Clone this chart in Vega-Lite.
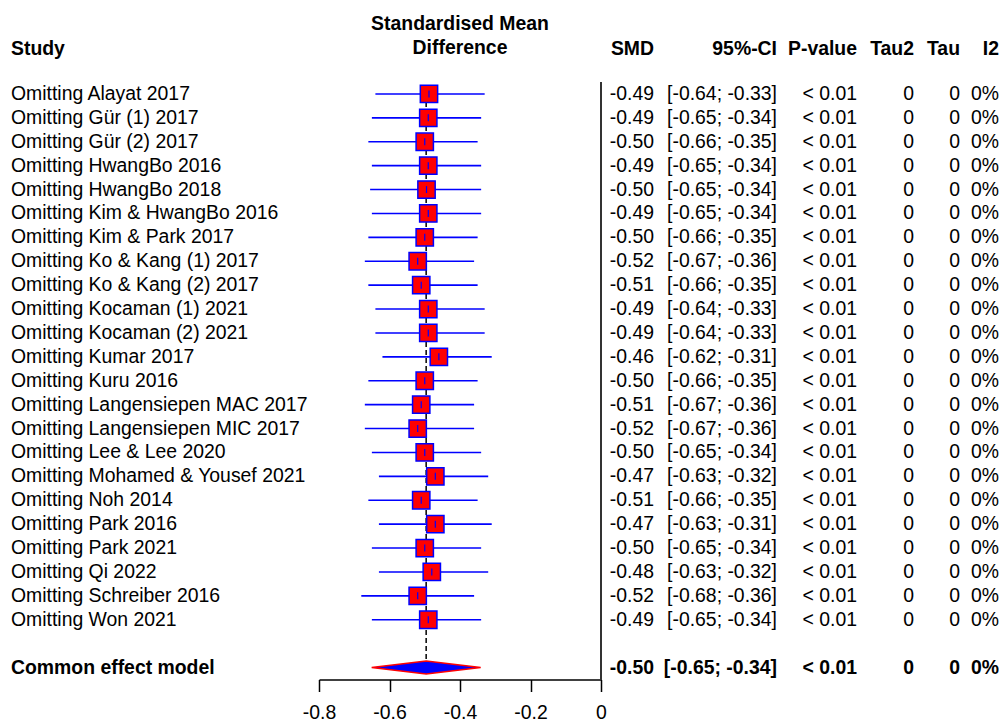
{
  "$schema": "https://vega.github.io/schema/vega-lite/v6.json",
  "padding": {"left": 11, "top": 13, "right": 0, "bottom": 0},
  "background": "white",
  "bounds": "flush",
  "spacing": 0,
  "data": {"values": [
    {"study": "Omitting Alayat 2017", "smd": -0.488, "lo": -0.64, "hi": -0.33, "smdt": "-0.49", "ci": "[-0.64; -0.33]", "p": "< 0.01", "tau2": "0", "tau": "0", "i2": "0%", "common": false},
    {"study": "Omitting Gür (1) 2017", "smd": -0.49, "lo": -0.65, "hi": -0.34, "smdt": "-0.49", "ci": "[-0.65; -0.34]", "p": "< 0.01", "tau2": "0", "tau": "0", "i2": "0%", "common": false},
    {"study": "Omitting Gür (2) 2017", "smd": -0.50, "lo": -0.66, "hi": -0.35, "smdt": "-0.50", "ci": "[-0.66; -0.35]", "p": "< 0.01", "tau2": "0", "tau": "0", "i2": "0%", "common": false},
    {"study": "Omitting HwangBo 2016", "smd": -0.49, "lo": -0.65, "hi": -0.34, "smdt": "-0.49", "ci": "[-0.65; -0.34]", "p": "< 0.01", "tau2": "0", "tau": "0", "i2": "0%", "common": false},
    {"study": "Omitting HwangBo 2018", "smd": -0.495, "lo": -0.655, "hi": -0.34, "smdt": "-0.50", "ci": "[-0.65; -0.34]", "p": "< 0.01", "tau2": "0", "tau": "0", "i2": "0%", "common": false},
    {"study": "Omitting Kim & HwangBo 2016", "smd": -0.49, "lo": -0.65, "hi": -0.34, "smdt": "-0.49", "ci": "[-0.65; -0.34]", "p": "< 0.01", "tau2": "0", "tau": "0", "i2": "0%", "common": false},
    {"study": "Omitting Kim & Park 2017", "smd": -0.50, "lo": -0.66, "hi": -0.35, "smdt": "-0.50", "ci": "[-0.66; -0.35]", "p": "< 0.01", "tau2": "0", "tau": "0", "i2": "0%", "common": false},
    {"study": "Omitting Ko & Kang (1) 2017", "smd": -0.52, "lo": -0.67, "hi": -0.36, "smdt": "-0.52", "ci": "[-0.67; -0.36]", "p": "< 0.01", "tau2": "0", "tau": "0", "i2": "0%", "common": false},
    {"study": "Omitting Ko & Kang (2) 2017", "smd": -0.51, "lo": -0.66, "hi": -0.35, "smdt": "-0.51", "ci": "[-0.66; -0.35]", "p": "< 0.01", "tau2": "0", "tau": "0", "i2": "0%", "common": false},
    {"study": "Omitting Kocaman (1) 2021", "smd": -0.49, "lo": -0.64, "hi": -0.33, "smdt": "-0.49", "ci": "[-0.64; -0.33]", "p": "< 0.01", "tau2": "0", "tau": "0", "i2": "0%", "common": false},
    {"study": "Omitting Kocaman (2) 2021", "smd": -0.49, "lo": -0.64, "hi": -0.33, "smdt": "-0.49", "ci": "[-0.64; -0.33]", "p": "< 0.01", "tau2": "0", "tau": "0", "i2": "0%", "common": false},
    {"study": "Omitting Kumar 2017", "smd": -0.46, "lo": -0.62, "hi": -0.31, "smdt": "-0.46", "ci": "[-0.62; -0.31]", "p": "< 0.01", "tau2": "0", "tau": "0", "i2": "0%", "common": false},
    {"study": "Omitting Kuru 2016", "smd": -0.50, "lo": -0.66, "hi": -0.35, "smdt": "-0.50", "ci": "[-0.66; -0.35]", "p": "< 0.01", "tau2": "0", "tau": "0", "i2": "0%", "common": false},
    {"study": "Omitting Langensiepen MAC 2017", "smd": -0.51, "lo": -0.67, "hi": -0.36, "smdt": "-0.51", "ci": "[-0.67; -0.36]", "p": "< 0.01", "tau2": "0", "tau": "0", "i2": "0%", "common": false},
    {"study": "Omitting Langensiepen MIC 2017", "smd": -0.52, "lo": -0.67, "hi": -0.36, "smdt": "-0.52", "ci": "[-0.67; -0.36]", "p": "< 0.01", "tau2": "0", "tau": "0", "i2": "0%", "common": false},
    {"study": "Omitting Lee & Lee 2020", "smd": -0.50, "lo": -0.65, "hi": -0.34, "smdt": "-0.50", "ci": "[-0.65; -0.34]", "p": "< 0.01", "tau2": "0", "tau": "0", "i2": "0%", "common": false},
    {"study": "Omitting Mohamed & Yousef 2021", "smd": -0.47, "lo": -0.63, "hi": -0.32, "smdt": "-0.47", "ci": "[-0.63; -0.32]", "p": "< 0.01", "tau2": "0", "tau": "0", "i2": "0%", "common": false},
    {"study": "Omitting Noh 2014", "smd": -0.51, "lo": -0.66, "hi": -0.35, "smdt": "-0.51", "ci": "[-0.66; -0.35]", "p": "< 0.01", "tau2": "0", "tau": "0", "i2": "0%", "common": false},
    {"study": "Omitting Park 2016", "smd": -0.47, "lo": -0.63, "hi": -0.31, "smdt": "-0.47", "ci": "[-0.63; -0.31]", "p": "< 0.01", "tau2": "0", "tau": "0", "i2": "0%", "common": false},
    {"study": "Omitting Park 2021", "smd": -0.50, "lo": -0.65, "hi": -0.34, "smdt": "-0.50", "ci": "[-0.65; -0.34]", "p": "< 0.01", "tau2": "0", "tau": "0", "i2": "0%", "common": false},
    {"study": "Omitting Qi 2022", "smd": -0.48, "lo": -0.63, "hi": -0.32, "smdt": "-0.48", "ci": "[-0.63; -0.32]", "p": "< 0.01", "tau2": "0", "tau": "0", "i2": "0%", "common": false},
    {"study": "Omitting Schreiber 2016", "smd": -0.52, "lo": -0.68, "hi": -0.36, "smdt": "-0.52", "ci": "[-0.68; -0.36]", "p": "< 0.01", "tau2": "0", "tau": "0", "i2": "0%", "common": false},
    {"study": "Omitting Won 2021", "smd": -0.49, "lo": -0.65, "hi": -0.34, "smdt": "-0.49", "ci": "[-0.65; -0.34]", "p": "< 0.01", "tau2": "0", "tau": "0", "i2": "0%", "common": false},
    {"study": "Common effect model", "smd": -0.496, "lo": -0.65, "hi": -0.34, "smdt": "-0.50", "ci": "[-0.65; -0.34]", "p": "< 0.01", "tau2": "0", "tau": "0", "i2": "0%", "common": true}
  ]},
  "hconcat": [
    {
      "width": 308, "height": 597.5,
      "title": {"text": "Study", "anchor": "start"},
      "layer": [
        {"transform": [{"filter": "!datum.common"}],
         "mark": {"type": "text", "align": "left", "baseline": "middle"},
         "encoding": {
           "y": {"field": "study", "type": "nominal", "axis": null, "scale": {"type": "point", "padding": 0.5, "domain": ["Omitting Alayat 2017","Omitting Gür (1) 2017","Omitting Gür (2) 2017","Omitting HwangBo 2016","Omitting HwangBo 2018","Omitting Kim & HwangBo 2016","Omitting Kim & Park 2017","Omitting Ko & Kang (1) 2017","Omitting Ko & Kang (2) 2017","Omitting Kocaman (1) 2021","Omitting Kocaman (2) 2021","Omitting Kumar 2017","Omitting Kuru 2016","Omitting Langensiepen MAC 2017","Omitting Langensiepen MIC 2017","Omitting Lee & Lee 2020","Omitting Mohamed & Yousef 2021","Omitting Noh 2014","Omitting Park 2016","Omitting Park 2021","Omitting Qi 2022","Omitting Schreiber 2016","Omitting Won 2021"," ","Common effect model"]}},
           "x": {"value": 0},
           "text": {"field": "study"}
         }},
        {"transform": [{"filter": "datum.common"}],
         "mark": {"type": "text", "align": "left", "baseline": "middle", "fontWeight": "bold"},
         "encoding": {
           "y": {"field": "study", "type": "nominal", "axis": null},
           "x": {"value": 0},
           "text": {"field": "study"}
         }}
      ]
    },
    {
      "width": 282, "height": 597.5,
      "title": {"text": ["Standardised Mean", "Difference"], "anchor": "middle"},
      "layer": [
        {"mark": {"type": "rule", "color": "#333333", "strokeWidth": 1.5},
         "encoding": {
           "x": {"datum": 0, "type": "quantitative",
                 "scale": {"domain": [-0.8, 0], "nice": false, "zero": false},
                 "axis": {"values": [-0.8, -0.6, -0.4, -0.2, 0], "labelExpr": "'' + datum.value", "title": null, "grid": false,
                          "domainColor": "black", "domainWidth": 1.5, "tickColor": "black", "tickWidth": 1.5, "tickSize": 12,
                          "labelFontSize": 19.4, "labelColor": "black", "labelPadding": 12, "labelFont": "Liberation Sans", "labelFlush": false}}
         }},
        {"transform": [{"filter": "datum.common"}],
         "mark": {"type": "rule", "color": "black", "strokeWidth": 1.5, "strokeDash": [5, 3]},
         "encoding": {
           "x": {"field": "smd", "type": "quantitative"},
           "y": {"datum": "Omitting Alayat 2017", "type": "nominal", "axis": null, "scale": {"type": "point", "padding": 0.5, "domain": ["Omitting Alayat 2017","Omitting Gür (1) 2017","Omitting Gür (2) 2017","Omitting HwangBo 2016","Omitting HwangBo 2018","Omitting Kim & HwangBo 2016","Omitting Kim & Park 2017","Omitting Ko & Kang (1) 2017","Omitting Ko & Kang (2) 2017","Omitting Kocaman (1) 2021","Omitting Kocaman (2) 2021","Omitting Kumar 2017","Omitting Kuru 2016","Omitting Langensiepen MAC 2017","Omitting Langensiepen MIC 2017","Omitting Lee & Lee 2020","Omitting Mohamed & Yousef 2021","Omitting Noh 2014","Omitting Park 2016","Omitting Park 2021","Omitting Qi 2022","Omitting Schreiber 2016","Omitting Won 2021"," ","Common effect model"]}},
           "y2": {"datum": "Common effect model"}
         }},
        {"transform": [{"filter": "!datum.common"}],
         "mark": {"type": "rule", "color": "#0000ff", "strokeWidth": 1.6},
         "encoding": {
           "x": {"field": "lo", "type": "quantitative"},
           "x2": {"field": "hi"},
           "y": {"field": "study", "type": "nominal"}
         }},
        {"transform": [{"filter": "!datum.common"}],
         "mark": {"type": "point", "shape": "square", "filled": true, "fill": "#ff0000", "stroke": "#0000ff", "strokeWidth": 1.5, "size": 300, "opacity": 1},
         "encoding": {
           "x": {"field": "smd", "type": "quantitative"},
           "y": {"field": "study", "type": "nominal"}
         }},
        {"transform": [{"filter": "!datum.common"}],
         "mark": {"type": "tick", "orient": "vertical", "color": "#0000ff", "size": 7, "thickness": 1.2, "opacity": 1},
         "encoding": {
           "x": {"field": "smd", "type": "quantitative"},
           "y": {"field": "study", "type": "nominal"}
         }},
        {"transform": [{"filter": "datum.common"}],
         "mark": {"type": "point", "shape": "M-1,0L0,-0.12L1,0L0,0.12Z", "filled": true, "fill": "#0000ff", "stroke": "#ff0000", "strokeWidth": 1.5, "size": 11881, "opacity": 1},
         "encoding": {
           "x": {"field": "smd", "type": "quantitative"},
           "y": {"field": "study", "type": "nominal"}
         }}
      ]
    },
    {
      "width": 53, "height": 597.5,
      "title": {"text": "SMD", "anchor": "end"},
      "layer": [
        {"transform": [{"filter": "!datum.common"}],
         "mark": {"type": "text", "align": "right", "baseline": "middle"},
         "encoding": {
           "y": {"field": "study", "type": "nominal", "axis": null, "scale": {"type": "point", "padding": 0.5, "domain": ["Omitting Alayat 2017","Omitting Gür (1) 2017","Omitting Gür (2) 2017","Omitting HwangBo 2016","Omitting HwangBo 2018","Omitting Kim & HwangBo 2016","Omitting Kim & Park 2017","Omitting Ko & Kang (1) 2017","Omitting Ko & Kang (2) 2017","Omitting Kocaman (1) 2021","Omitting Kocaman (2) 2021","Omitting Kumar 2017","Omitting Kuru 2016","Omitting Langensiepen MAC 2017","Omitting Langensiepen MIC 2017","Omitting Lee & Lee 2020","Omitting Mohamed & Yousef 2021","Omitting Noh 2014","Omitting Park 2016","Omitting Park 2021","Omitting Qi 2022","Omitting Schreiber 2016","Omitting Won 2021"," ","Common effect model"]}},
           "x": {"value": "width"},
           "text": {"field": "smdt"}
         }},
        {"transform": [{"filter": "datum.common"}],
         "mark": {"type": "text", "align": "right", "baseline": "middle", "fontWeight": "bold"},
         "encoding": {
           "y": {"field": "study", "type": "nominal", "axis": null},
           "x": {"value": "width"},
           "text": {"field": "smdt"}
         }}
      ]
    },
    {
      "width": 123, "height": 597.5,
      "title": {"text": "95%-CI", "anchor": "end"},
      "layer": [
        {"transform": [{"filter": "!datum.common"}],
         "mark": {"type": "text", "align": "right", "baseline": "middle"},
         "encoding": {
           "y": {"field": "study", "type": "nominal", "axis": null, "scale": {"type": "point", "padding": 0.5, "domain": ["Omitting Alayat 2017","Omitting Gür (1) 2017","Omitting Gür (2) 2017","Omitting HwangBo 2016","Omitting HwangBo 2018","Omitting Kim & HwangBo 2016","Omitting Kim & Park 2017","Omitting Ko & Kang (1) 2017","Omitting Ko & Kang (2) 2017","Omitting Kocaman (1) 2021","Omitting Kocaman (2) 2021","Omitting Kumar 2017","Omitting Kuru 2016","Omitting Langensiepen MAC 2017","Omitting Langensiepen MIC 2017","Omitting Lee & Lee 2020","Omitting Mohamed & Yousef 2021","Omitting Noh 2014","Omitting Park 2016","Omitting Park 2021","Omitting Qi 2022","Omitting Schreiber 2016","Omitting Won 2021"," ","Common effect model"]}},
           "x": {"value": "width"},
           "text": {"field": "ci"}
         }},
        {"transform": [{"filter": "datum.common"}],
         "mark": {"type": "text", "align": "right", "baseline": "middle", "fontWeight": "bold"},
         "encoding": {
           "y": {"field": "study", "type": "nominal", "axis": null},
           "x": {"value": "width"},
           "text": {"field": "ci"}
         }}
      ]
    },
    {
      "width": 80, "height": 597.5,
      "title": {"text": "P-value", "anchor": "end"},
      "layer": [
        {"transform": [{"filter": "!datum.common"}],
         "mark": {"type": "text", "align": "right", "baseline": "middle"},
         "encoding": {
           "y": {"field": "study", "type": "nominal", "axis": null, "scale": {"type": "point", "padding": 0.5, "domain": ["Omitting Alayat 2017","Omitting Gür (1) 2017","Omitting Gür (2) 2017","Omitting HwangBo 2016","Omitting HwangBo 2018","Omitting Kim & HwangBo 2016","Omitting Kim & Park 2017","Omitting Ko & Kang (1) 2017","Omitting Ko & Kang (2) 2017","Omitting Kocaman (1) 2021","Omitting Kocaman (2) 2021","Omitting Kumar 2017","Omitting Kuru 2016","Omitting Langensiepen MAC 2017","Omitting Langensiepen MIC 2017","Omitting Lee & Lee 2020","Omitting Mohamed & Yousef 2021","Omitting Noh 2014","Omitting Park 2016","Omitting Park 2021","Omitting Qi 2022","Omitting Schreiber 2016","Omitting Won 2021"," ","Common effect model"]}},
           "x": {"value": "width"},
           "text": {"field": "p"}
         }},
        {"transform": [{"filter": "datum.common"}],
         "mark": {"type": "text", "align": "right", "baseline": "middle", "fontWeight": "bold"},
         "encoding": {
           "y": {"field": "study", "type": "nominal", "axis": null},
           "x": {"value": "width"},
           "text": {"field": "p"}
         }}
      ]
    },
    {
      "width": 57, "height": 597.5,
      "title": {"text": "Tau2", "anchor": "end"},
      "layer": [
        {"transform": [{"filter": "!datum.common"}],
         "mark": {"type": "text", "align": "right", "baseline": "middle"},
         "encoding": {
           "y": {"field": "study", "type": "nominal", "axis": null, "scale": {"type": "point", "padding": 0.5, "domain": ["Omitting Alayat 2017","Omitting Gür (1) 2017","Omitting Gür (2) 2017","Omitting HwangBo 2016","Omitting HwangBo 2018","Omitting Kim & HwangBo 2016","Omitting Kim & Park 2017","Omitting Ko & Kang (1) 2017","Omitting Ko & Kang (2) 2017","Omitting Kocaman (1) 2021","Omitting Kocaman (2) 2021","Omitting Kumar 2017","Omitting Kuru 2016","Omitting Langensiepen MAC 2017","Omitting Langensiepen MIC 2017","Omitting Lee & Lee 2020","Omitting Mohamed & Yousef 2021","Omitting Noh 2014","Omitting Park 2016","Omitting Park 2021","Omitting Qi 2022","Omitting Schreiber 2016","Omitting Won 2021"," ","Common effect model"]}},
           "x": {"value": "width"},
           "text": {"field": "tau2"}
         }},
        {"transform": [{"filter": "datum.common"}],
         "mark": {"type": "text", "align": "right", "baseline": "middle", "fontWeight": "bold"},
         "encoding": {
           "y": {"field": "study", "type": "nominal", "axis": null},
           "x": {"value": "width"},
           "text": {"field": "tau2"}
         }}
      ]
    },
    {
      "width": 46, "height": 597.5,
      "title": {"text": "Tau", "anchor": "end"},
      "layer": [
        {"transform": [{"filter": "!datum.common"}],
         "mark": {"type": "text", "align": "right", "baseline": "middle"},
         "encoding": {
           "y": {"field": "study", "type": "nominal", "axis": null, "scale": {"type": "point", "padding": 0.5, "domain": ["Omitting Alayat 2017","Omitting Gür (1) 2017","Omitting Gür (2) 2017","Omitting HwangBo 2016","Omitting HwangBo 2018","Omitting Kim & HwangBo 2016","Omitting Kim & Park 2017","Omitting Ko & Kang (1) 2017","Omitting Ko & Kang (2) 2017","Omitting Kocaman (1) 2021","Omitting Kocaman (2) 2021","Omitting Kumar 2017","Omitting Kuru 2016","Omitting Langensiepen MAC 2017","Omitting Langensiepen MIC 2017","Omitting Lee & Lee 2020","Omitting Mohamed & Yousef 2021","Omitting Noh 2014","Omitting Park 2016","Omitting Park 2021","Omitting Qi 2022","Omitting Schreiber 2016","Omitting Won 2021"," ","Common effect model"]}},
           "x": {"value": "width"},
           "text": {"field": "tau"}
         }},
        {"transform": [{"filter": "datum.common"}],
         "mark": {"type": "text", "align": "right", "baseline": "middle", "fontWeight": "bold"},
         "encoding": {
           "y": {"field": "study", "type": "nominal", "axis": null},
           "x": {"value": "width"},
           "text": {"field": "tau"}
         }}
      ]
    },
    {
      "width": 39, "height": 597.5,
      "title": {"text": "I2", "anchor": "end"},
      "layer": [
        {"transform": [{"filter": "!datum.common"}],
         "mark": {"type": "text", "align": "right", "baseline": "middle"},
         "encoding": {
           "y": {"field": "study", "type": "nominal", "axis": null, "scale": {"type": "point", "padding": 0.5, "domain": ["Omitting Alayat 2017","Omitting Gür (1) 2017","Omitting Gür (2) 2017","Omitting HwangBo 2016","Omitting HwangBo 2018","Omitting Kim & HwangBo 2016","Omitting Kim & Park 2017","Omitting Ko & Kang (1) 2017","Omitting Ko & Kang (2) 2017","Omitting Kocaman (1) 2021","Omitting Kocaman (2) 2021","Omitting Kumar 2017","Omitting Kuru 2016","Omitting Langensiepen MAC 2017","Omitting Langensiepen MIC 2017","Omitting Lee & Lee 2020","Omitting Mohamed & Yousef 2021","Omitting Noh 2014","Omitting Park 2016","Omitting Park 2021","Omitting Qi 2022","Omitting Schreiber 2016","Omitting Won 2021"," ","Common effect model"]}},
           "x": {"value": "width"},
           "text": {"field": "i2"}
         }},
        {"transform": [{"filter": "datum.common"}],
         "mark": {"type": "text", "align": "right", "baseline": "middle", "fontWeight": "bold"},
         "encoding": {
           "y": {"field": "study", "type": "nominal", "axis": null},
           "x": {"value": "width"},
           "text": {"field": "i2"}
         }}
      ]
    }
  ],
  "config": {
    "view": {"stroke": null},
    "font": "Liberation Sans",
    "text": {"fontSize": 19.4, "font": "Liberation Sans", "color": "black"},
    "title": {"fontSize": 19.4, "font": "Liberation Sans", "fontWeight": "bold", "color": "black", "offset": 23, "frame": "group", "lineHeight": 24, "baseline": "bottom"}
  }
}
